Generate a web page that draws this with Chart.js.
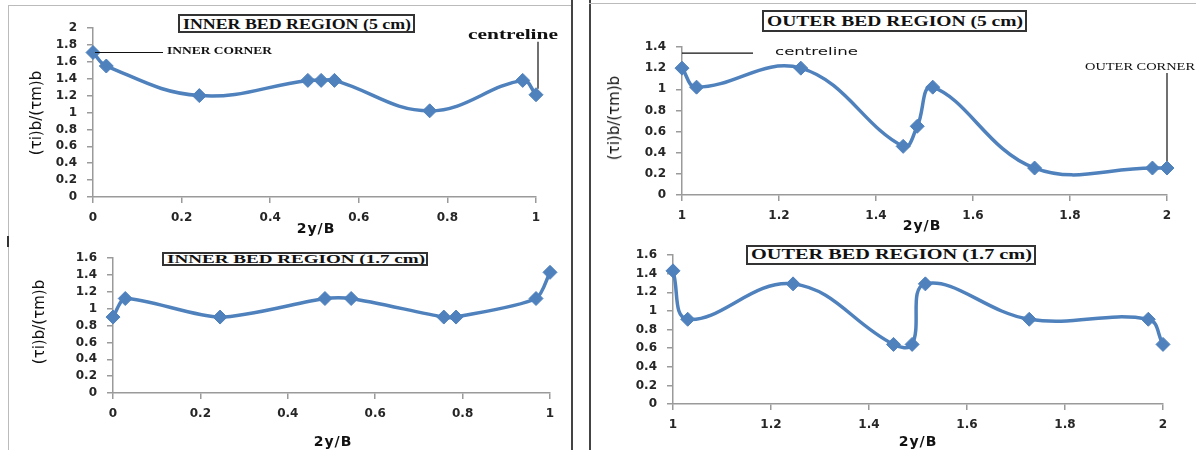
<!DOCTYPE html>
<html>
<head>
<meta charset="utf-8">
<script src="https://cdn.jsdelivr.net/npm/chart.js@4.4.1/dist/chart.umd.min.js"></script>
<style>
  html, body { margin: 0; padding: 0; background: #fff; }
  #page { position: relative; width: 1196px; height: 450px; overflow: hidden; }
  canvas { position: absolute; left: 0; top: 0; }
  .frame { position: absolute; }
  .txt { position: absolute; white-space: nowrap; color: #111; transform-origin: 0 50%; line-height: 1; }
  .box { position: absolute; border: 2px solid #333; background: #fff; box-sizing: border-box; overflow: hidden; }
  .box span { position: absolute; left: 3px; top: 50%; white-space: nowrap; transform-origin: 0 50%;
              font-family: "Liberation Serif", serif; font-weight: bold; color: #111; line-height: 1; }
  .ytitle { position: absolute; white-space: nowrap; font-family: "DejaVu Sans", sans-serif; font-size: 15px;
            color: #111; transform: translate(-50%, -50%) rotate(-90deg); }
  .xtitle { position: absolute; white-space: nowrap; font-family: "DejaVu Sans", sans-serif; font-weight: bold;
            font-size: 14px; letter-spacing: 1px; color: #111; transform: translate(-50%, -50%); }
</style>
</head>
<body>
<div id="page">
  <canvas id="c1" width="1196" height="450"></canvas>
  <canvas id="c2" width="1196" height="450"></canvas>
  <canvas id="c3" width="1196" height="450"></canvas>
  <canvas id="c4" width="1196" height="450"></canvas>

  <!-- frames -->
  <div class="frame" style="left:8px;top:5px;width:563px;height:1px;background:#bbb"></div>
  <div class="frame" style="left:8px;top:5px;width:1px;height:445px;background:#bbb"></div>
  <div class="frame" style="left:7px;top:236px;width:2px;height:11px;background:#333"></div>
  <div class="frame" style="left:571px;top:0;width:1.5px;height:450px;background:#444"></div>
  <div class="frame" style="left:589px;top:0;width:1.5px;height:450px;background:#444"></div>
  <div class="frame" style="left:589px;top:3px;width:607px;height:1px;background:#bbb"></div>

  <!-- titles -->
  <div class="box" style="left:178px;top:14px;width:237px;height:19px"><span data-w="228" style="font-size:15px">INNER BED REGION (5 cm)</span></div>
  <div class="box" style="left:162px;top:252px;width:266px;height:14px"><span data-w="258" style="font-size:12px">INNER BED REGION (1.7 cm)</span></div>
  <div class="box" style="left:762px;top:10px;width:265px;height:22px"><span data-w="256" style="font-size:15px">OUTER BED REGION (5 cm)</span></div>
  <div class="box" style="left:746px;top:245px;width:290px;height:20px"><span data-w="281" style="font-size:14px">OUTER BED REGION (1.7 cm)</span></div>

  <!-- annotations -->
  <div class="txt" data-w="105" style="left:167px;top:46px;font-family:'Liberation Serif',serif;font-weight:bold;font-size:10px">INNER CORNER</div>
  <div class="txt" data-w="90" style="left:468px;top:30px;font-family:'Liberation Serif',serif;font-weight:bold;font-size:14px">centreline</div>
  <div class="txt" data-w="83" style="left:775px;top:46px;font-family:'DejaVu Sans',sans-serif;font-size:11px">centreline</div>
  <div class="txt" data-w="110" style="left:1085px;top:62px;font-family:'Liberation Serif',serif;font-size:10px">OUTER CORNER</div>

  <!-- axis titles -->
  <div class="ytitle" style="left:36px;top:113px">(τi)b/(τm)b</div>
  <div class="ytitle" style="left:39px;top:322px">(τi)b/(τm)b</div>
  <div class="ytitle" style="left:614px;top:118px">(τi)b/(τm)b</div>
  <div class="xtitle" style="left:316px;top:228px">2y/B</div>
  <div class="xtitle" style="left:333px;top:441px">2y/B</div>
  <div class="xtitle" style="left:922px;top:225px">2y/B</div>
  <div class="xtitle" style="left:918px;top:441px">2y/B</div>
</div>

<script>
// Inner bed region, 5 cm
const inner5X = [0, 0.03, 0.24, 0.485, 0.515, 0.545, 0.76, 0.97, 1.0];
const inner5Y = [1.71, 1.55, 1.2, 1.38, 1.38, 1.38, 1.02, 1.38, 1.21];

// Inner bed region, 1.7 cm
const inner17X = [0, 0.028, 0.245, 0.485, 0.545, 0.757, 0.785, 0.968, 1.0];
const inner17Y = [0.9, 1.12, 0.9, 1.12, 1.12, 0.9, 0.9, 1.12, 1.43];

// Outer bed region, 5 cm
const outer5X = [1.0, 1.03, 1.245, 1.456, 1.485, 1.517, 1.727, 1.97, 2.0];
const outer5Y = [1.2, 1.02, 1.2, 0.46, 0.65, 1.02, 0.255, 0.255, 0.255];

// Outer bed region, 1.7 cm
const outer17X = [1.0, 1.03, 1.245, 1.45, 1.488, 1.515, 1.727, 1.97, 2.0];
const outer17Y = [1.43, 0.91, 1.29, 0.64, 0.64, 1.29, 0.91, 0.91, 0.64];

// axis ranges
const innerXRange = [0, 1];
const outerXRange = [1, 2];
const yMax5in = 2, yMax17in = 1.6, yMax5out = 1.4, yMax17out = 1.6;

const W = 1196, H = 450;
const Y_AXIS_W = 60, X_AXIS_H = 30;
const BLUE = '#4f81bd';

function toPoints(xs, ys) {
    return xs.map((x, i) => ({ x: x, y: ys[i] }));
}

// "0", "0.2", ..., "1" like the spreadsheet labels
function tickText(v) {
    return String(Math.round(v * 10) / 10);
}

// leader lines drawn from a data point
function leaderPlugin(lines) {
    return {
        id: 'leaders',
        afterDatasetsDraw(chart) {
            const ctx = chart.ctx;
            const xs = chart.scales.x, ys = chart.scales.y;
            ctx.save();
            ctx.strokeStyle = '#111';
            ctx.lineWidth = 1.2;
            lines.forEach(l => {
                const px = xs.getPixelForValue(l.x) + l.dx0;
                const py = ys.getPixelForValue(l.y) + l.dy0;
                ctx.beginPath();
                ctx.moveTo(px, py);
                ctx.lineTo(px + l.dx, py + l.dy);
                ctx.stroke();
            });
            ctx.restore();
        }
    };
}

function makeChart(id, xs, ys, area, xRange, yMax, tension, lines) {
    const axisCommon = {
        grid: { drawOnChartArea: false, drawTicks: true, tickLength: 6, color: '#9a9a9a', lineWidth: 1.5 },
        border: { color: '#9a9a9a', width: 1.5 },
        ticks: {
            color: '#262626',
            font: { family: 'DejaVu Sans', size: 12, weight: 'bold' },
            autoSkip: false,
            maxRotation: 0,
            stepSize: 0.2,
            callback: tickText
        }
    };
    return new Chart(document.getElementById(id), {
        type: 'line',
        data: {
            datasets: [{
                data: toPoints(xs, ys),
                borderColor: BLUE,
                backgroundColor: BLUE,
                borderWidth: 3.5,
                tension: tension,
                clip: false,
                pointStyle: 'rectRot',
                pointRadius: 7,
                pointBorderWidth: 1,
                pointBorderColor: BLUE,
                pointBackgroundColor: BLUE
            }]
        },
        options: {
            responsive: false,
            animation: false,
            events: [],
            layout: {
                padding: {
                    left: area.left - Y_AXIS_W,
                    right: W - area.right,
                    top: area.top,
                    bottom: H - area.bottom - X_AXIS_H
                }
            },
            plugins: { legend: { display: false }, tooltip: { enabled: false } },
            scales: {
                x: {
                    ...axisCommon,
                    type: 'linear',
                    min: xRange[0],
                    max: xRange[1],
                    ticks: { ...axisCommon.ticks, padding: 8 },
                    afterFit(scale) { scale.height = X_AXIS_H; }
                },
                y: {
                    ...axisCommon,
                    min: 0,
                    max: yMax,
                    ticks: { ...axisCommon.ticks, padding: 10 },
                    afterFit(scale) { scale.width = Y_AXIS_W; }
                }
            }
        },
        plugins: [leaderPlugin(lines || [])]
    });
}

makeChart('c1', inner5X, inner5Y, { left: 93, right: 536, top: 28, bottom: 197 }, innerXRange, yMax5in, 0.4, [
    { x: 0, y: 1.71, dx0: 2, dy0: 0, dx: 68, dy: 0 },
    { x: 1.0, y: 1.21, dx0: 2, dy0: -6, dx: 0, dy: -47 }
]);
makeChart('c2', inner17X, inner17Y, { left: 113, right: 550, top: 258, bottom: 393 }, innerXRange, yMax17in, 0.25);
makeChart('c3', outer5X, outer5Y, { left: 682, right: 1167, top: 47, bottom: 195 }, outerXRange, yMax5out, 0.4, [
    { x: 1.0, y: 1.2, dx0: 0, dy0: -15, dx: 71, dy: 0 },
    { x: 2.0, y: 0.255, dx0: 0, dy0: -7, dx: 0, dy: -88 }
]);
makeChart('c4', outer17X, outer17Y, { left: 673, right: 1163, top: 255, bottom: 404 }, outerXRange, yMax17out, 0.4);

// stretch text to the widths seen in the picture
document.querySelectorAll('[data-w]').forEach(el => {
    const target = parseFloat(el.dataset.w);
    const actual = el.getBoundingClientRect().width;
    if (actual > 0) el.style.transform = `translateY(-50%) scaleX(${target / actual})`;
});
document.querySelectorAll('.txt').forEach(el => {
    el.style.top = (parseFloat(el.style.top) + 5) + 'px';
});
</script>
</body>
</html>
